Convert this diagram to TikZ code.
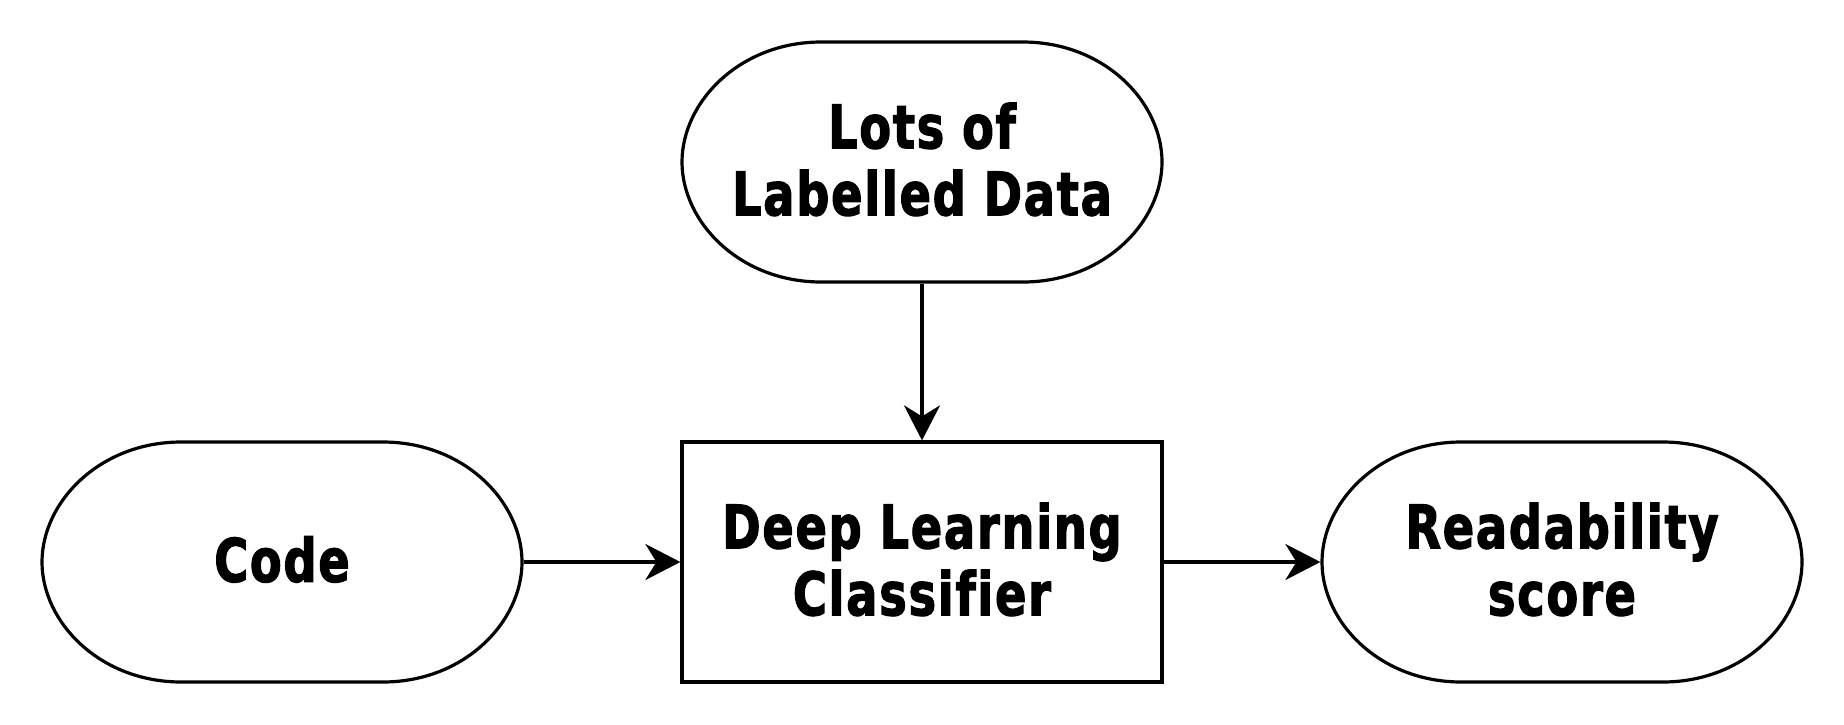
\documentclass[tikz,border=0pt]{standalone}
\usepackage{fontspec}
\setmainfont{DejaVu Sans}[FakeStretch=0.815, Ligatures=CommonOff]
\newfontfamily\lblfont{DejaVu Sans}[FakeStretch=0.77, FakeBold=2, LetterSpace=3, Ligatures=CommonOff]
\usetikzlibrary{arrows.meta}
\begin{document}
\begin{tikzpicture}[x=1pt,y=-1pt,
  line width=3.2pt,
  lbl/.style={font=\fontsize{60}{67}\selectfont\lblfont\bfseries, align=center, text depth=6pt, inner sep=0pt},
  termbox/.style={lbl, minimum width=480pt, minimum height=240pt, draw=none},
  procbox/.style={lbl, minimum width=480pt, minimum height=240pt, draw, rectangle},
  termline/.style={draw, line join=round},
  conn/.style={draw, -{Stealth[length=35pt, width=36pt, inset=11pt]}}
]
\useasboundingbox (0,0) rectangle (1844,724);
\newcommand\termshape[1]{%
  \path[termline, shift={(#1.center)}]
    (-100.8,-120) -- (100.8,-120)
    .. controls (182.4,-120) and (240,-60) .. (240,0)
    .. controls (240,60) and (182.4,120) .. (100.8,120)
    -- (-100.8,120)
    .. controls (-182.4,120) and (-240,60) .. (-240,0)
    .. controls (-240,-60) and (-182.4,-120) .. (-100.8,-120) -- cycle;}

\node[termbox] (data) at (922,162) {Lots of\\Labelled Data};
\node[termbox] (code) at (282,562) {Code};
\node[procbox] (dlc) at (922,562) {Deep Learning\\Classifier};
\node[termbox] (score) at (1562,562) {Readability\\score};

\termshape{data}
\termshape{code}
\termshape{score}

\draw[conn] (data) -- (dlc);
\draw[conn] (code) -- (dlc);
\draw[conn] (dlc) -- (score);
\end{tikzpicture}
\end{document}
